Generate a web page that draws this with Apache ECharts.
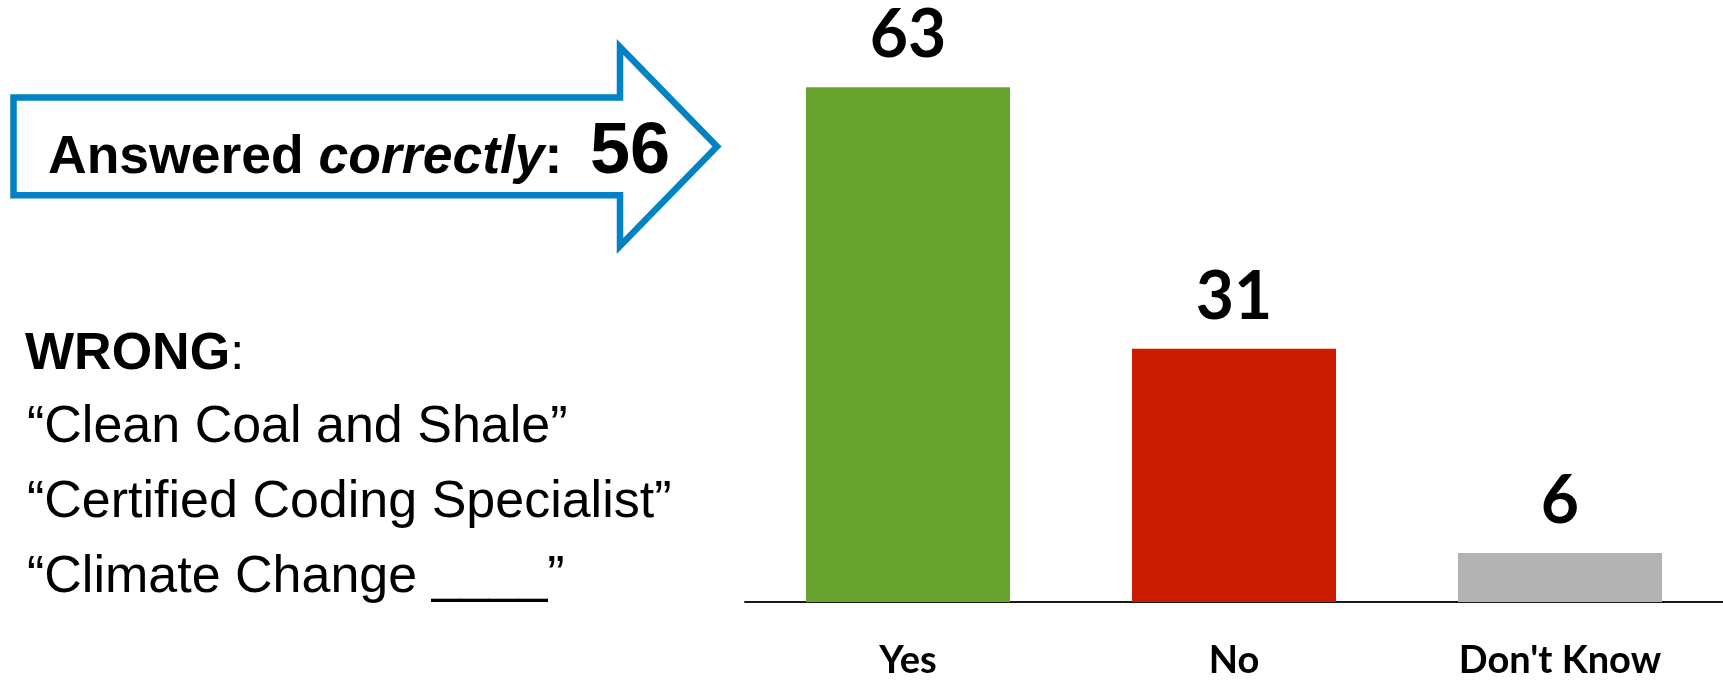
<!DOCTYPE html>
<html>
<head>
<meta charset="utf-8">
<script src="https://cdn.jsdelivr.net/npm/echarts@6/dist/echarts.min.js"></script>
<style>
  html, body { margin: 0; padding: 0; background: #ffffff; }
  #chart { width: 1723px; height: 680px; }
</style>
</head>
<body>
<div id="chart"></div>
<script>
// ---- data ----
const categories = ["Yes", "No", "Don't Know"];
const values = [63, 31, 6];
const answeredCorrectly = 56;
const wrongHeading = "WRONG";
const wrongExamples = [
  "\u201CClean Coal and Shale\u201D",
  "\u201CCertified Coding Specialist\u201D",
  "\u201CClimate Change ____\u201D"
];

// ---- styles ----
const barColors = ["#66A22D", "#CC1C00", "#B3B3B3"];
const chartFont = "Lato, 'Noto Sans', sans-serif";
const leftFont = "'Liberation Sans', Arial, sans-serif";

const chart = echarts.init(document.getElementById('chart'), null, { renderer: 'canvas' });

const graphics = [
  {
    type: 'polygon',
    shape: {
      points: [[13.5, 97.5], [620, 97.5], [620, 47], [717, 146.5], [620, 246], [620, 195.3], [13.5, 195.3]]
    },
    style: { fill: '#ffffff', stroke: '#0082C4', lineWidth: 6.5, lineJoin: 'miter', miterLimit: 10 },
    z: 1
  },
  {
    type: 'text',
    x: 48, y: 158,
    style: {
      text: '{b|Answered }{bi|correctly}{b|:}',
      verticalAlign: 'middle',
      align: 'left',
      rich: {
        b: { fontFamily: leftFont, fontWeight: 'bold', fontSize: 53.5, fill: '#000', lineHeight: 60 },
        bi: { fontFamily: leftFont, fontWeight: 'bold', fontStyle: 'italic', fontSize: 53.5, fill: '#000', lineHeight: 60 }
      }
    },
    z: 2
  },
  {
    type: 'text',
    x: 590, y: 153,
    style: {
      text: String(answeredCorrectly),
      font: "bold 72px " + leftFont,
      fill: '#000',
      verticalAlign: 'middle',
      align: 'left'
    },
    z: 2
  },
  {
    type: 'text',
    x: 25, y: 355,
    style: {
      text: '{b|' + wrongHeading + '}{r|:}',
      verticalAlign: 'middle',
      align: 'left',
      rich: {
        b: { fontFamily: leftFont, fontWeight: 'bold', fontSize: 52, fill: '#000', lineHeight: 60 },
        r: { fontFamily: leftFont, fontWeight: 'normal', fontSize: 52, fill: '#000', lineHeight: 60 }
      }
    },
    z: 2
  }
];

const lineYs = [428, 503, 578];
wrongExamples.forEach((t, i) => {
  graphics.push({
    type: 'text',
    x: 27, y: lineYs[i],
    style: {
      text: t,
      font: "52px " + leftFont,
      fill: '#000',
      verticalAlign: 'middle',
      align: 'left'
    },
    z: 2
  });
});

chart.setOption({
  animation: false,
  backgroundColor: '#ffffff',
  grid: { left: 745, right: 0, top: 30, bottom: 74, containLabel: false },
  xAxis: {
    type: 'category',
    data: categories,
    axisLine: { show: true, lineStyle: { color: '#1a1a1a', width: 2 } },
    axisTick: { show: false },
    axisLabel: {
      color: '#000',
      fontFamily: chartFont,
      fontWeight: 'bold',
      fontSize: 38,
      lineHeight: 38,
      margin: 40
    }
  },
  yAxis: {
    type: 'value',
    min: 0, max: 70, interval: 10,
    show: false,
    splitLine: { show: false }
  },
  series: [{
    type: 'bar',
    data: values.map((v, i) => ({ value: v, itemStyle: { color: barColors[i] } })),
    barWidth: 204,
    label: {
      show: true,
      position: 'top',
      distance: 18,
      color: '#000',
      fontFamily: chartFont,
      fontWeight: 'bold',
      fontSize: 66,
      lineHeight: 66
    }
  }],
  graphic: graphics
});
</script>
</body>
</html>
